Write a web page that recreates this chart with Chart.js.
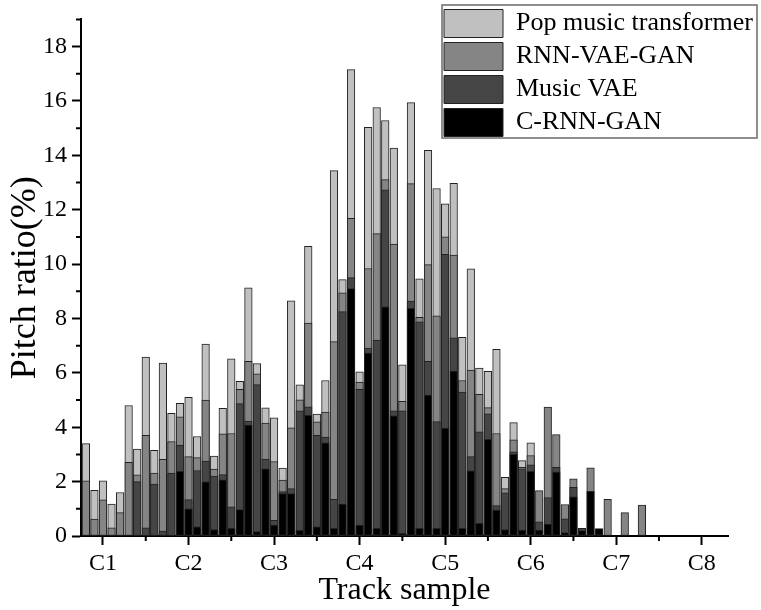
<!DOCTYPE html>
<html><head><meta charset="utf-8">
<script src="https://cdn.jsdelivr.net/npm/chart.js@4.4.1/dist/chart.umd.min.js"></script>
<style>html,body{margin:0;padding:0;background:#fff;}</style>
</head><body>
<canvas id="c" width="761" height="610"></canvas>
<script>
// Track samples (pitch positions along the x axis)
const samples = [1,2,3,4,5,6,7,8,9,10,11,12,13,14,15,16,17,18,19,20,21,22,23,24,25,26,27,28,29,30,31,32,33,34,35,36,37,38,39,40,41,42,43,44,45,46,47,48,49,50,51,52,53,54,55,56,57,58,59,60,61,62,63,64,65,66];

const popMusicTransformer = [3.4,1.68,2.03,1.17,1.6,4.8,3.2,6.58,3.15,6.36,4.51,4.88,5.1,3.66,7.06,2.94,4.7,6.52,5.69,9.13,6.34,4.71,4.35,2.5,8.65,5.56,10.65,4.48,5.72,13.44,9.43,17.15,6.04,15.03,15.76,15.28,14.27,6.3,15.94,9.46,14.18,12.78,12.22,12.97,7.31,9.83,6.18,6.06,6.87,2.16,4.17,2.77,3.43,null,null,null,null,null,null,null,null,null,null,null,null,null];

const rnnVaeGan = [2.03,0.62,1.33,0.3,0.86,2.71,2.25,3.7,2.31,2.82,3.47,4.38,2.92,2.88,5.0,2.46,3.76,3.77,5.39,6.42,5.96,4.15,2.74,2.06,3.98,5.01,7.83,4.2,4.56,7.15,8.94,11.68,5.66,9.84,11.12,13.11,10.74,4.95,12.96,8.04,9.98,8.1,11.0,10.33,5.72,6.1,5.21,4.72,3.77,1.74,3.54,2.53,2.96,1.67,4.74,3.73,1.16,2.1,null,2.51,null,1.35,null,0.86,null,1.14];

const musicVae = [null,null,null,null,null,null,2.0,0.3,1.91,0.18,2.31,3.34,1.34,2.41,2.76,2.2,2.26,1.07,4.87,4.23,5.57,2.83,0.58,1.63,1.74,4.6,4.75,3.7,3.64,1.35,8.25,9.5,5.39,6.91,7.21,12.73,4.6,4.6,8.64,7.88,6.42,4.21,10.36,7.29,5.29,2.92,3.83,4.49,1.12,1.59,3.1,2.47,2.62,0.52,1.41,2.53,0.63,1.79,0.28,null,null,null,null,null,null,null];

const cRnnGan = [null,null,null,null,null,null,null,null,null,null,null,2.38,1.0,0.34,1.99,0.24,2.07,0.28,0.97,4.08,0.16,2.47,0.4,1.56,1.56,0.21,4.44,0.34,3.43,0.28,1.17,9.1,0.4,6.73,0.28,8.43,4.42,0.1,8.37,0.28,5.18,0.28,3.97,6.07,0.28,2.4,0.47,3.56,0.95,0.24,3.0,0.22,2.38,0.22,0.44,2.35,0.13,1.44,0.2,1.64,0.27,null,null,null,null,null];

const xTickValues = [3,13,23,33,43,53,63,73];
const xTickLabels = ['C1','C2','C3','C4','C5','C6','C7','C8'];
const xMinorTicks = [8,18,28,38,48,58,68];
const yTickValues = [0,2,4,6,8,10,12,14,16,18];
const yMinorTicks = [1,3,5,7,9,11,13,15,17,19];

const FONT = "'Liberation Serif', 'Times New Roman', serif";
Chart.defaults.color = '#000';
Chart.defaults.font.family = FONT;

function ds(label, data, color) {
  return {
    label, data,
    backgroundColor: color,
    borderColor: '#222',
    borderWidth: 1,
    borderSkipped: false,
    grouped: false,
    barThickness: 7.6
  };
}

const minorTicks = {
  id: 'minorTicks',
  afterDraw(chart) {
    const {ctx, scales: {x, y}, chartArea: a} = chart;
    ctx.save();
    ctx.strokeStyle = '#000';
    ctx.lineWidth = 2;
    ctx.beginPath();
    xMinorTicks.forEach(v => { const p = x.getPixelForValue(v); ctx.moveTo(p, a.bottom); ctx.lineTo(p, a.bottom + 5); });
    yMinorTicks.forEach(v => { const p = y.getPixelForValue(v); ctx.moveTo(a.left, p); ctx.lineTo(a.left - 5, p); });
    ctx.stroke();
    ctx.restore();
  }
};

const legendPlace = {
  id: 'legendPlace',
  afterLayout(chart) {
    const l = chart.legend;
    if (!l) return;
    l.left = 439; l.top = 4.5; l.right = 757; l.bottom = 150;
    l.width = l.right - l.left; l.height = l.bottom - l.top;
  },
  afterDraw(chart) {
    const ctx = chart.ctx;
    ctx.save();
    ctx.strokeStyle = '#6a6a6a';
    ctx.lineWidth = 1.5;
    ctx.strokeRect(442, 5, 315, 133);
    ctx.restore();
  }
};

new Chart(document.getElementById('c'), {
  type: 'bar',
  data: {
    labels: samples,
    datasets: [
      ds('C-RNN-GAN', cRnnGan, '#000000'),
      ds('Music VAE', musicVae, '#454545'),
      ds('RNN-VAE-GAN', rnnVaeGan, '#858585'),
      ds('Pop music transformer', popMusicTransformer, '#c0c0c0')
    ]
  },
  options: {
    responsive: false,
    animation: false,
    devicePixelRatio: 1,
    layout: {padding: {left: 0, right: 33, top: 15.4, bottom: 0}},
    plugins: {
      tooltip: {enabled: false},
      legend: {
        position: 'chartArea',
        align: 'start',
        reverse: true,
        labels: {
          boxWidth: 59, boxHeight: 28, padding: 5,
          textAlign: 'left',
          color: '#000',
          font: {family: FONT, size: 26}
        }
      }
    },
    scales: {
      x: {
        type: 'linear',
        offset: false,
        min: 0.43, max: 76.07,
        afterBuildTicks: s => { s.ticks = xTickValues.map(v => ({value: v})); },
        afterFit: s => { s.height = 74; },
        grid: {display: true, offset: false, drawOnChartArea: false, drawTicks: true, tickLength: 9, tickColor: '#000', tickWidth: 2},
        border: {display: true, color: '#000', width: 2},
        ticks: {
          autoSkip: false, maxRotation: 0, padding: 4,
          font: {family: FONT, size: 24},
          callback: (v) => { const i = xTickValues.indexOf(v); return i >= 0 ? xTickLabels[i] : ''; }
        },
        title: {display: true, text: 'Track sample', font: {family: FONT, size: 32}, padding: {top: 0, bottom: 0}}
      },
      y: {
        min: 0, max: 19,
        afterBuildTicks: s => { s.ticks = yTickValues.map(v => ({value: v})); },
        afterFit: s => { s.width = 81; },
        grid: {display: true, drawOnChartArea: false, drawTicks: true, tickLength: 9, tickColor: '#000', tickWidth: 2},
        border: {display: true, color: '#000', width: 2},
        ticks: {padding: 5, font: {family: FONT, size: 24}},
        title: {display: true, text: 'Pitch ratio(%)', font: {family: FONT, size: 36}, padding: {top: 4, bottom: 0}}
      }
    }
  },
  plugins: [minorTicks, legendPlace]
});
</script>
</body></html>
